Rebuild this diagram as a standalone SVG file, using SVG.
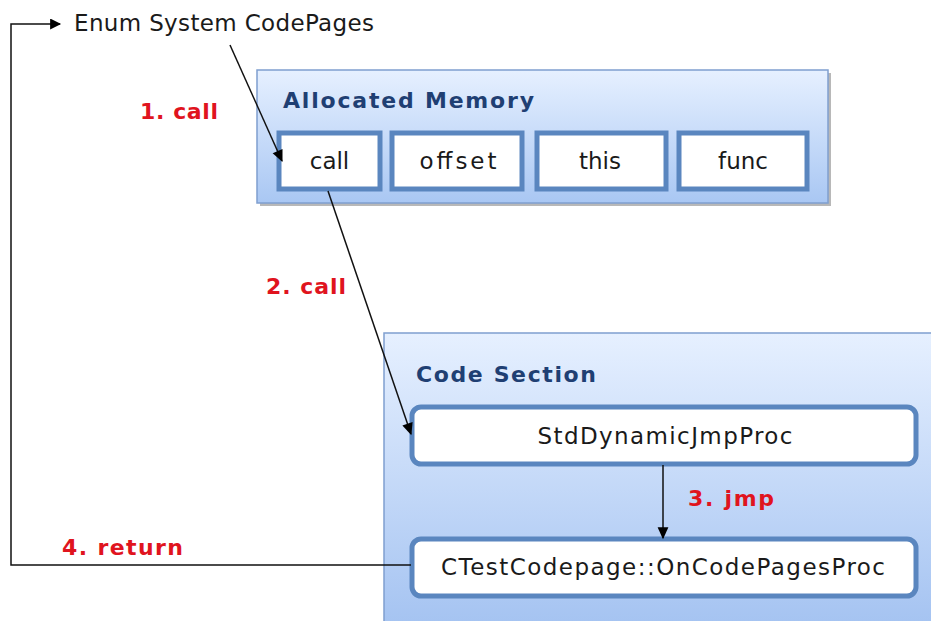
<svg xmlns="http://www.w3.org/2000/svg" width="931" height="621" viewBox="0 0 931 621">
<defs>
<linearGradient id="panel" x1="0" y1="0" x2="0" y2="1">
<stop offset="0" stop-color="#e6f0ff"/>
<stop offset="1" stop-color="#a9c7f3"/>
</linearGradient>
<linearGradient id="panel2" x1="0" y1="0" x2="0" y2="1">
<stop offset="0" stop-color="#e6f0ff"/>
<stop offset="1" stop-color="#a3c2f1"/>
</linearGradient>
<marker id="ah" viewBox="0 0 10 10" refX="9" refY="5" markerWidth="12" markerHeight="11" orient="auto" markerUnits="userSpaceOnUse">
<path d="M0,0 L10,5 L0,10 z" fill="#000"/>
</marker>
<marker id="ah2" viewBox="0 0 10 10" refX="9" refY="5" markerWidth="14" markerHeight="12" orient="auto" markerUnits="userSpaceOnUse">
<path d="M0,0.5 L10,5 L0,9.5 z" fill="#000"/>
</marker>
</defs>
<style>
.panel{stroke:#7f9fcf;stroke-width:1.5}
.shadow{fill:#b8b8b8}
.cell{fill:#fff;stroke:#5a86bf;stroke-width:5}
.t{font-family:"DejaVu Sans",sans-serif;font-size:23px;fill:#1a1a1a;text-anchor:middle}
.h{font-family:"DejaVu Sans",sans-serif;font-weight:bold;font-size:22px;fill:#1f3f73}
.lbl{font-family:"DejaVu Sans",sans-serif;font-weight:bold;font-size:22px;fill:#e0141e}
.line{stroke:#111;stroke-width:1.5;fill:none}
</style>
<rect width="931" height="621" fill="#fff"/>
<g id="allocated-memory">
<rect class="shadow" x="260" y="73" width="571" height="133"/>
<rect class="panel" x="257" y="70" width="571" height="133" fill="url(#panel)"/>
<text class="h" x="283" y="108" textLength="251" lengthAdjust="spacing">Allocated Memory</text>
</g>
<g id="cell-call"><rect class="cell" x="279" y="133" width="101" height="56"/><text class="t" x="329.5" y="169">call</text></g>
<g id="cell-offset"><rect class="cell" x="392" y="133" width="130" height="56"/><text class="t" x="458" y="169" textLength="77" lengthAdjust="spacing">offset</text></g>
<g id="cell-this"><rect class="cell" x="537" y="133" width="129" height="56"/><text class="t" x="600" y="169">this</text></g>
<g id="cell-func"><rect class="cell" x="679" y="133" width="128" height="56"/><text class="t" x="743" y="169">func</text></g>
<g id="code-section">
<rect class="panel" x="384" y="333" width="560" height="300" fill="url(#panel2)"/>
<text class="h" x="416" y="382" textLength="180" lengthAdjust="spacing">Code Section</text>
</g>
<g id="std-dynamic"><rect class="cell" x="412" y="407" width="504" height="57" rx="9"/><text class="t" x="665" y="444" textLength="255" lengthAdjust="spacing">StdDynamicJmpProc</text></g>
<g id="ctest"><rect class="cell" x="412" y="539" width="504" height="57" rx="9"/><text class="t" x="663" y="575" textLength="444" lengthAdjust="spacing">CTestCodepage::OnCodePagesProc</text></g>
<g id="enum"><text class="t" x="224" y="31" textLength="300" lengthAdjust="spacing">Enum System CodePages</text></g>
<g id="connectors">
<path class="line" d="M411,565 L11,565 L11,24 L60,24" marker-end="url(#ah)"/>
<path class="line" d="M230,45 L282,161" marker-end="url(#ah2)"/>
<path class="line" d="M328,191 L411,434" marker-end="url(#ah2)"/>
<path class="line" d="M663,465 L663,538" marker-end="url(#ah2)"/>
</g>
<g id="labels">
<text class="lbl" x="140" y="119" textLength="78" lengthAdjust="spacing">1. call</text>
<text class="lbl" x="266" y="294" textLength="80" lengthAdjust="spacing">2. call</text>
<text class="lbl" x="688" y="506" textLength="86" lengthAdjust="spacing">3. jmp</text>
<text class="lbl" x="62" y="555" textLength="121" lengthAdjust="spacing">4. return</text>
</g>
</svg>
